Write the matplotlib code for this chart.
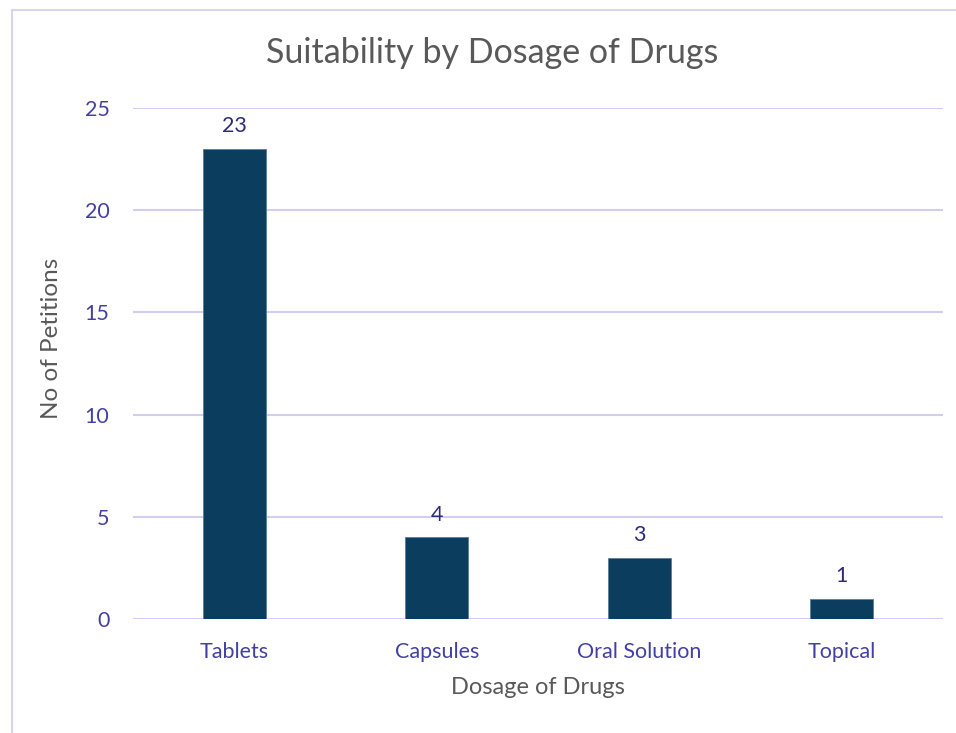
import matplotlib
matplotlib.use("Agg")
import matplotlib.pyplot as plt
from matplotlib.patches import Rectangle

categories = ["Tablets", "Capsules", "Oral Solution", "Topical"]
values = [23, 4, 3, 1]
yticks = [0, 5, 10, 15, 20, 25]

W, H = 956, 733
fig = plt.figure(figsize=(W / 100, H / 100), dpi=100)
plt.rcParams['font.family'] = ['Lato', 'DejaVu Sans']

# chart border (extends off the right/bottom edges)
fig.patches.append(Rectangle((12 / W, -0.05), 1.1, 1 - 10 / H + 0.05, transform=fig.transFigure,
                             fill=False, edgecolor='#D9D4F2', linewidth=1.5))

left, right = 133 / W, 943 / W
bottom, top = 1 - 619 / H, 1 - 108 / H
ax = fig.add_axes([left, bottom, right - left, top - bottom])

bar_color = '#0B3D5E'
tick_color = '#4340A4'
label_color = '#2E2B7A'
grid_color = '#D3CEF0'
gray = '#595959'

x = list(range(len(categories)))
bars = ax.bar(x, values, width=0.31, color=bar_color, edgecolor='#5A7E98', linewidth=0.6, zorder=3)
for xi, v in zip(x, values):
    ax.annotate(str(v), (xi, v), xytext=(0, 9), textcoords='offset points',
                ha='center', va='bottom', fontsize=15.5, color=label_color)

ax.set_xlim(-0.5, 3.5)
ax.set_ylim(0, 25)
ax.set_yticks(yticks)
ax.set_yticklabels([str(t) for t in yticks], fontsize=15.5, color=tick_color)
ax.set_xticks(x)
ax.set_xticklabels(categories, fontsize=15.5, color=tick_color)
ax.tick_params(axis='both', length=0)
ax.tick_params(axis='y', pad=17)
ax.tick_params(axis='x', pad=16.5)
ax.yaxis.grid(True, color=grid_color, linewidth=1.5, zorder=0)
ax.set_axisbelow(True)
for s in ax.spines.values():
    s.set_visible(False)

fig.text(492 / W, 1 - 53 / H, "Suitability by Dosage of Drugs", ha='center', va='center',
         fontsize=24.5, color=gray)
fig.text(538 / W, 1 - 688 / H, "Dosage of Drugs", ha='center', va='center', fontsize=17, color=gray)
fig.text(52 / W, 1 - 338 / H, "No of Petitions", ha='center', va='center', rotation=90,
         fontsize=17.5, color=gray)

fig.savefig("out.png", dpi=100, facecolor='white')
